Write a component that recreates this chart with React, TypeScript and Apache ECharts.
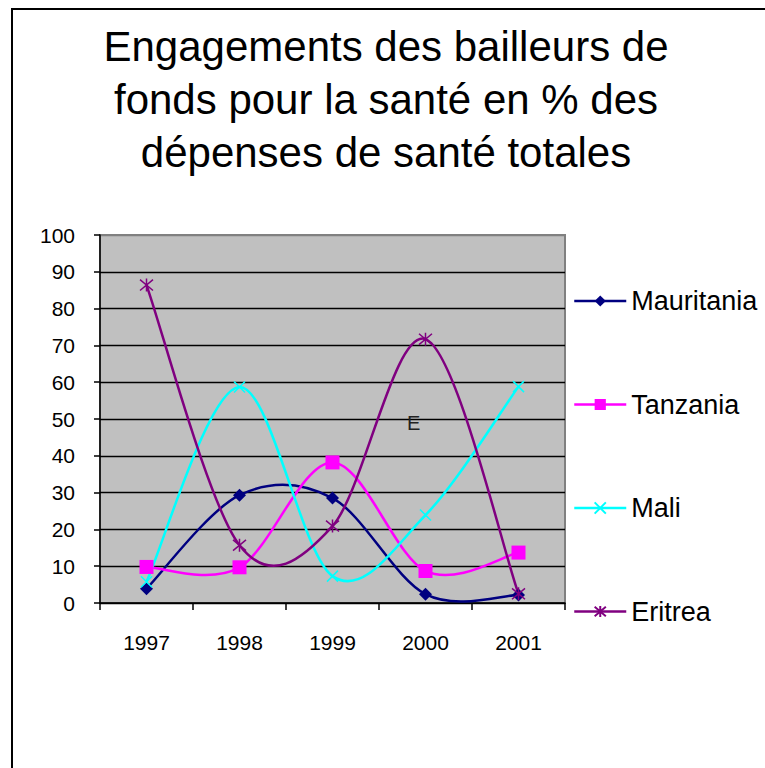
import React, { useEffect, useRef } from "react";
import * as echarts from "echarts";

const years = ["1997", "1998", "1999", "2000", "2001"];
const mauritania = [3.9, 29.3, 28.5, 2.4, 2.2];
const tanzania = [9.8, 9.7, 38.2, 8.7, 13.7];
const mali = [5.8, 58.7, 7.3, 23.9, 58.8];
const eritrea = [86.4, 15.7, 20.9, 71.7, 2.5];
const yTicks = [0, 100, 10];

const titleText = "Engagements des bailleurs de\nfonds pour la santé en % des\ndépenses de santé totales";
const FONT = '"Liberation Sans", Arial, sans-serif';

export default function App() {
  const ref = useRef<HTMLDivElement>(null);
  useEffect(() => {
    if (!ref.current) return;
    const chart = echarts.init(ref.current, null, { renderer: "svg" });

    const marker = (name: string, data: number[], color: string, symbol: string, size: number, stroked: boolean) => ({
      name,
      type: "line",
      data,
      z: 3,
      symbol,
      symbolSize: size,
      lineStyle: { color, width: 2.5, opacity: 0 },
      itemStyle: stroked
        ? { color, borderColor: color, borderWidth: 1.5 }
        : { color, borderWidth: 0 },
    });

    const curve = (name: string, data: number[], color: string) => ({
      name,
      type: "custom",
      z: 1,
      data: data.map((v, i) => [i, v]),
      encode: { x: 0, y: 1 },
      renderItem: (params: any, api: any) => {
        const i = params.dataIndex;
        const n = data.length;
        if (i >= n - 1) return null;
        const c = (k: number) => {
          const kk = Math.max(0, Math.min(n - 1, k));
          return api.coord([kk, data[kk]]);
        };
        const P0 = c(i - 1), P1 = c(i), P2 = c(i + 1), P3 = c(i + 2);
        return {
          type: "bezierCurve",
          shape: {
            x1: P1[0], y1: P1[1],
            cpx1: P1[0] + (P2[0] - P0[0]) / 6, cpy1: P1[1] + (P2[1] - P0[1]) / 6,
            cpx2: P2[0] - (P3[0] - P1[0]) / 6, cpy2: P2[1] - (P3[1] - P1[1]) / 6,
            x2: P2[0], y2: P2[1],
          },
          style: { stroke: color, lineWidth: 2.5, fill: null },
        };
      },
    });

    chart.setOption({
      animation: false,
      backgroundColor: "#fff",
      textStyle: { fontFamily: FONT },
      grid: { left: 100, top: 235, width: 465, height: 368, show: true, backgroundColor: "#C0C0C0", borderColor: "#808080", borderWidth: 2 },
      legend: {
        orient: "vertical",
        left: 568,
        top: 282,
        itemWidth: 52,
        itemHeight: 14,
        itemGap: 75.5,
        lineStyle: { opacity: 1, width: 2.5 },
        textStyle: { fontSize: 27, color: "#000", fontFamily: FONT, lineHeight: 28 },
        data: ["Mauritania", "Tanzania", "Mali", "Eritrea"],
      },
      xAxis: {
        type: "category",
        data: years,
        boundaryGap: true,
        axisLine: { lineStyle: { color: "#000", width: 1.5 } },
        axisTick: { show: true, length: 7, lineStyle: { color: "#000", width: 1.5 } },
        axisLabel: { fontSize: 21, color: "#000", margin: 29, fontFamily: FONT },
      },
      yAxis: {
        type: "value",
        min: yTicks[0],
        max: yTicks[1],
        interval: yTicks[2],
        axisLine: { show: true, lineStyle: { color: "#000", width: 1.5 } },
        axisTick: { show: true, length: 6, lineStyle: { color: "#000", width: 1.5 } },
        axisLabel: { fontSize: 21, color: "#000", margin: 25, fontFamily: FONT },
        splitLine: {
          show: true,
          lineStyle: { color: ["#000", "#000", "#000", "#000", "#000", "#000", "#000", "#000", "#000", "#000", "#808080"], width: 1.4 },
        },
      },
      series: [
        marker("Mauritania", mauritania, "#000080", "diamond", 13, false),
        marker("Tanzania", tanzania, "#FF00FF", "rect", 14, false),
        marker("Mali", mali, "#00FFFF", "path://M0 0L10 10M10 0L0 10", 11, true),
        marker("Eritrea", eritrea, "#800080", "path://M0 0L10 10M10 0L0 10M5 -1L5 11", 13, true),
        curve("Mauritania", mauritania, "#000080"),
        curve("Tanzania", tanzania, "#FF00FF"),
        curve("Mali", mali, "#00FFFF"),
        curve("Eritrea", eritrea, "#800080"),
      ],
      graphic: [
        {
          type: "text",
          x: 386,
          y: 20,
          style: { text: titleText, fontSize: 42, fontFamily: FONT, fill: "#000", align: "center", verticalAlign: "top", lineHeight: 53 },
        },
        {
          type: "text",
          x: 407,
          y: 413,
          z: 100,
          style: { text: "E", fontSize: 20, fontFamily: FONT, fill: "#222" },
        },
        {
          type: "rect",
          shape: { x: 12, y: 9, width: 800, height: 800 },
          style: { fill: "none", stroke: "#000", lineWidth: 2 },
        },
      ],
    });
    return () => chart.dispose();
  }, []);
  return <div ref={ref} style={{ position: "absolute", left: 0, top: 0, width: 765, height: 768 }} />;
}
